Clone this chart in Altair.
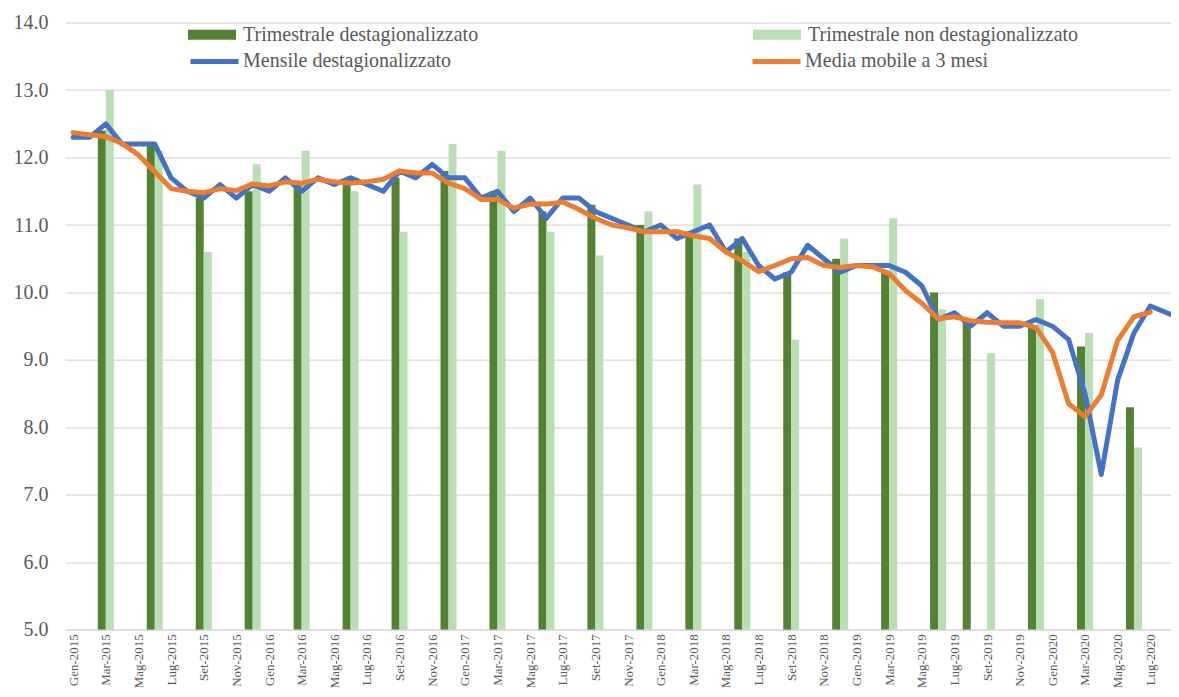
import altair as alt
import pandas as pd

# ---- categories -------------------------------------------------------
MESI = ["Gen", "Feb", "Mar", "Apr", "Mag", "Giu", "Lug", "Ago", "Set", "Ott", "Nov", "Dic"]
ANNI = [2015, 2016, 2017, 2018, 2019, 2020]
mesi = [f"{m}-{a}" for a in ANNI for m in MESI][:69]  # Gen-2015 ... Set-2020

# ---- series -----------------------------------------------------------
mensile = [12.3, 12.3, 12.5, 12.2, 12.2, 12.2, 11.7, 11.5, 11.4, 11.6, 11.4, 11.6,
           11.5, 11.7, 11.5, 11.7, 11.6, 11.7, 11.6, 11.5, 11.8, 11.7, 11.9, 11.7,
           11.7, 11.4, 11.5, 11.2, 11.4, 11.1, 11.4, 11.4, 11.2, 11.1, 11.0, 10.9,
           11.0, 10.8, 10.9, 11.0, 10.6, 10.8, 10.4, 10.2, 10.3, 10.7, 10.5, 10.3,
           10.4, 10.4, 10.4, 10.3, 10.1, 9.6, 9.7, 9.5, 9.7, 9.5, 9.5, 9.6,
           9.5, 9.3, 8.5, 7.3, 8.7, 9.4, 9.8, 9.7, 9.6]

media_mobile = [12.37, 12.34, 12.31, 12.21, 12.04, 11.79, 11.54, 11.50, 11.48, 11.54, 11.51, 11.61,
                11.58, 11.64, 11.62, 11.68, 11.64, 11.62, 11.64, 11.68, 11.80, 11.77, 11.77, 11.62,
                11.54, 11.38, 11.38, 11.25, 11.31, 11.31, 11.34, 11.23, 11.10, 11.00, 10.96, 10.90,
                10.90, 10.90, 10.84, 10.80, 10.60, 10.47, 10.31, 10.40, 10.50, 10.52, 10.40, 10.37,
                10.40, 10.38, 10.28, 10.03, 9.84, 9.61, 9.64, 9.58, 9.56, 9.55, 9.55, 9.48,
                9.12, 8.35, 8.16, 8.48, 9.29, 9.64, 9.71]

trim_dest_mesi = ["Mar-2015", "Giu-2015", "Set-2015", "Dic-2015", "Mar-2016", "Giu-2016",
                  "Set-2016", "Dic-2016", "Mar-2017", "Giu-2017", "Set-2017", "Dic-2017",
                  "Mar-2018", "Giu-2018", "Set-2018", "Dic-2018", "Mar-2019", "Giu-2019",
                  "Ago-2019", "Dic-2019", "Mar-2020", "Giu-2020"]
trim_dest = [12.4, 12.2, 11.4, 11.5, 11.6, 11.6, 11.7, 11.8, 11.5, 11.2, 11.3, 11.0,
             10.9, 10.8, 10.3, 10.5, 10.3, 10.0, 9.6, 9.5, 9.2, 8.3]

trim_nondest_mesi = ["Mar-2015", "Giu-2015", "Set-2015", "Dic-2015", "Mar-2016", "Giu-2016",
                     "Set-2016", "Dic-2016", "Mar-2017", "Giu-2017", "Set-2017", "Dic-2017",
                     "Mar-2018", "Giu-2018", "Set-2018", "Dic-2018", "Mar-2019", "Giu-2019",
                     "Set-2019", "Dic-2019", "Mar-2020", "Giu-2020"]
trim_nondest = [13.0, 12.1, 10.6, 11.9, 12.1, 11.5, 10.9, 12.2, 12.1, 10.9, 10.55, 11.2,
                11.6, 10.6, 9.3, 10.8, 11.1, 9.75, 9.1, 9.9, 9.4, 7.7]

S_TD = "Trimestrale destagionalizzato"
S_TN = "Trimestrale non destagionalizzato"
S_M = "Mensile destagionalizzato"
S_MM = "Media mobile a 3 mesi"

# ---- tables -----------------------------------------------------------
df_m = pd.DataFrame({"idx": range(len(mensile)), "mese": mesi[:len(mensile)],
                     "valore": mensile, "serie": S_M})
df_mm = pd.DataFrame({"idx": range(len(media_mobile)), "mese": mesi[:len(media_mobile)],
                      "valore": media_mobile, "serie": S_MM})
df_td = pd.DataFrame({"idx": [mesi.index(m) for m in trim_dest_mesi], "mese": trim_dest_mesi,
                      "valore": trim_dest, "serie": S_TD})
df_tn = pd.DataFrame({"idx": [mesi.index(m) for m in trim_nondest_mesi], "mese": trim_nondest_mesi,
                      "valore": trim_nondest, "serie": S_TN})

FONT = "Liberation Serif"
TXT = "#595959"
GRID = "#D9D9D9"

label_expr = ("['Gen','Feb','Mar','Apr','Mag','Giu','Lug','Ago','Set','Ott','Nov','Dic']"
              "[datum.value % 12] + '-' + (2015 + floor(datum.value / 12))")

x_enc = alt.X("idx:Q",
              scale=alt.Scale(domain=[-0.5, 67.27], nice=False, zero=False, padding=0),
              axis=alt.Axis(values=list(range(0, 68, 2)), labelExpr=label_expr,
                            labelAngle=-90, labelFont=FONT, labelFontSize=13,
                            labelColor=TXT, labelPadding=4, labelOverlap=False,
                            grid=False, ticks=False, domain=True, domainColor=GRID,
                            domainWidth=1.3, title=None))
y_enc = alt.Y("valore:Q",
              scale=alt.Scale(domain=[5, 14], nice=False, zero=False, padding=0),
              axis=alt.Axis(values=[5, 6, 7, 8, 9, 10, 11, 12, 13, 14], format=".1f",
                            labelFont=FONT, labelFontSize=20, labelColor=TXT,
                            labelPadding=17, grid=True, gridColor=GRID, gridWidth=1.3,
                            ticks=False, domain=False, title=None))

bar_legend = alt.Legend(title=None, orient="none", legendX=123, legendY=-12, columns=2,
                        columnPadding=274, padding=0, symbolType="M-1,-0.21H1V0.21H-1Z",
                        symbolSize=2304, symbolStrokeWidth=0, labelFont=FONT,
                        labelFontSize=20, labelColor=TXT, labelLimit=600, labelOffset=7)
line_legend = alt.Legend(title=None, orient="none", legendX=123, legendY=12, columns=2,
                         columnPadding=290, padding=0, symbolType="stroke",
                         symbolSize=2304, symbolStrokeWidth=5, labelFont=FONT,
                         labelFontSize=20, labelColor=TXT, labelLimit=600, labelOffset=2)

fill_scale = alt.Scale(domain=[S_TD, S_TN], range=["#548235", "#B9DEB3"])
stroke_scale = alt.Scale(domain=[S_M, S_MM], range=["#4472C4", "#ED7D31"])

bars_td = alt.Chart(df_td).mark_bar(width=8, xOffset=-4, clip=True).encode(
    x=x_enc, y=y_enc, y2=alt.datum(5),
    fill=alt.Fill("serie:N", scale=fill_scale, legend=bar_legend))
bars_tn = alt.Chart(df_tn).mark_bar(width=8, xOffset=4, clip=True).encode(
    x=x_enc, y=y_enc, y2=alt.datum(5),
    fill=alt.Fill("serie:N", scale=fill_scale, legend=bar_legend))

line_m = alt.Chart(df_m).mark_line(strokeWidth=5, clip=True, strokeJoin="round",
                                   strokeCap="round").encode(
    x=x_enc, y=y_enc, stroke=alt.Stroke("serie:N", scale=stroke_scale, legend=line_legend))
line_mm = alt.Chart(df_mm).mark_line(strokeWidth=5, clip=True, strokeJoin="round",
                                     strokeCap="round").encode(
    x=x_enc, y=y_enc, stroke=alt.Stroke("serie:N", scale=stroke_scale, legend=line_legend))

chart = alt.layer(bars_td, bars_tn, line_m, line_mm).properties(
    width=1106, height=607,
    autosize=alt.AutoSizeParams(type="none"),
    padding={"left": 57, "top": 14.7, "right": 0, "bottom": 59},
    background="white",
).configure_view(stroke=None)

chart.save("out.html", embed_options={"renderer": "svg", "actions": False})
